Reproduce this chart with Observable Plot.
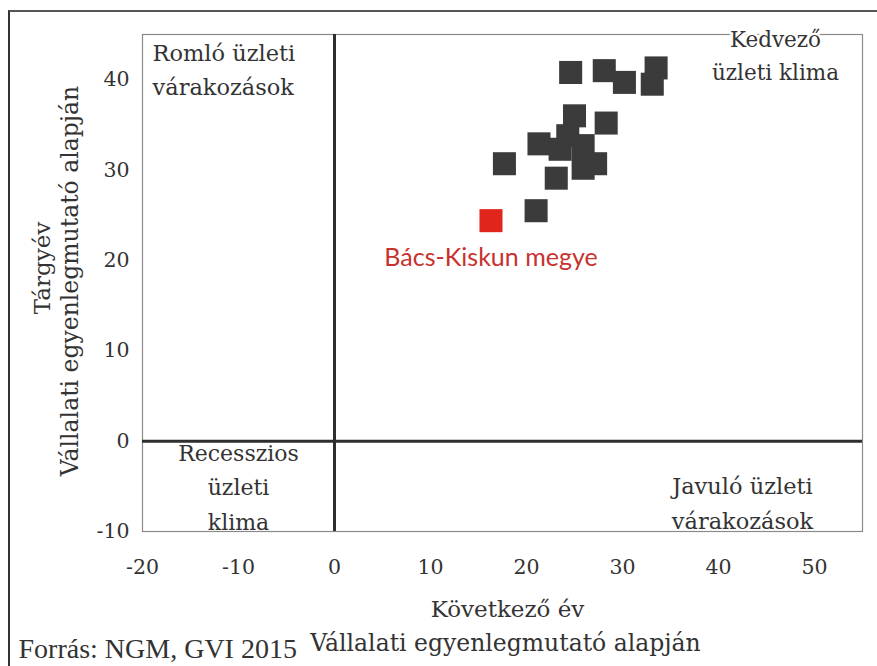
<!DOCTYPE html>
<html>
<head>
<meta charset="utf-8">
<script src="https://cdn.jsdelivr.net/npm/d3@7"></script>
<script src="https://cdn.jsdelivr.net/npm/@observablehq/plot@0.6"></script>
<style>
  html, body { margin: 0; padding: 0; background: #fff; }
  #wrap { position: relative; width: 877px; height: 666px; overflow: hidden; }
  #edge { position: absolute; left: 8px; top: 10px; right: -10px; bottom: -10px;
          border-left: 2px solid #333; border-top: 2px solid #555; pointer-events: none; }
</style>
</head>
<body>
<div id="wrap"><div id="edge"></div></div>
<script>
// Gray points: counties (Következő év, Tárgyév)
const nextYear = [24.6, 28.1, 30.2, 33.5, 33.1, 25.0, 28.3, 21.3, 24.3, 25.9, 23.5, 17.7, 23.1, 25.9, 27.2, 21.0];
const thisYear = [40.8, 41.0, 39.7, 41.3, 39.5, 36.0, 35.2, 32.9, 33.8, 32.7, 32.3, 30.7, 29.1, 30.2, 30.7, 25.5];
// Highlighted county
const highlightName = ["Bács-Kiskun megye"];
const highlightNext = [16.3];
const highlightThis = [24.4];
// Ticks
const xTicks = [-20, -10, 0, 10, 20, 30, 40, 50];
const yTicks = [-10, 0, 10, 20, 30, 40];

const points = nextYear.map((v, i) => ({x: v, y: thisYear[i]}));
const highlight = highlightName.map((n, i) => ({name: n, x: highlightNext[i], y: highlightThis[i]}));

const serif = "DejaVu Serif";
const txt = "#333333";

const chart = Plot.plot({
  width: 877,
  height: 666,
  marginLeft: 142,
  marginRight: 15,
  marginTop: 34,
  marginBottom: 135,
  style: {fontFamily: serif, background: "transparent", color: txt},
  x: {domain: [-20, 55]},
  y: {domain: [-10, 45]},
  marks: [
    Plot.frame({stroke: "#8a8a8a", strokeWidth: 1.2}),
    // quadrant labels drawn under the zero lines
    Plot.text(["Recesszios\nüzleti\nklima"], {x: -10, y: 0, text: d => d, textAnchor: "middle", lineAnchor: "top", lineHeight: 1.55, dy: -4, fontSize: 22, fill: txt}),
    Plot.ruleX([0], {stroke: "#2e2e2e", strokeWidth: 3}),
    Plot.ruleY([0], {stroke: "#2e2e2e", strokeWidth: 3}),
    Plot.text(["Romló üzleti\nvárakozások"], {frameAnchor: "top-left", text: d => d, textAnchor: "start", lineAnchor: "top", lineHeight: 1.5, dx: 10, dy: 3, fontSize: 22.5, fill: txt}),
    Plot.text(["Kedvező\nüzleti klima"], {frameAnchor: "top-right", text: d => d, textAnchor: "middle", lineAnchor: "top", lineHeight: 1.5, dx: -87, dy: -10, fontSize: 21.5, fill: txt, stroke: "white", strokeWidth: 5, paintOrder: "stroke"}),
    Plot.text(["Javuló üzleti\nvárakozások"], {frameAnchor: "bottom-right", text: d => d, textAnchor: "middle", lineAnchor: "bottom", lineHeight: 1.55, dx: -120, dy: -3, fontSize: 22.5, fill: txt}),
    // data
    Plot.dot(points, {x: "x", y: "y", symbol: "square", r: 13, fill: "#3b3b3b"}),
    Plot.dot(highlight, {x: "x", y: "y", symbol: "square", r: 13, fill: "#e0261c"}),
    Plot.text(highlight, {x: "x", y: "y", text: "name", dx: 0, dy: 37, fill: "#c8322e", fontFamily: "Lato", fontSize: 25}),
    // axes
    Plot.axisX({ticks: xTicks, tickSize: 0, tickPadding: 28, fontSize: 20.5, label: null, tickFormat: d => String(d)}),
    Plot.axisY({ticks: yTicks, tickSize: 0, tickPadding: 13, fontSize: 20.5, label: null, tickFormat: d => String(d)}),
    // axis titles
    Plot.text(["Következő év"], {frameAnchor: "bottom", text: d => d, textAnchor: "middle", dx: 5, dy: 85, fontSize: 23, fill: txt}),
    Plot.text(["Vállalati egyenlegmutató alapján"], {frameAnchor: "bottom", text: d => d, textAnchor: "middle", dx: 3, dy: 119, fontSize: 23.5, fill: txt}),
    Plot.text(["Forrás: NGM, GVI 2015"], {frameAnchor: "bottom-left", text: d => d, textAnchor: "start", dx: -124, dy: 126, fontSize: 28, fontFamily: "Liberation Serif", fill: txt}),
    Plot.text(["Tárgyév"], {frameAnchor: "left", text: d => d, rotate: -90, textAnchor: "middle", dx: -100, dy: -15, fontSize: 23, fill: txt}),
    Plot.text(["Vállalati egyenlegmutató alapján"], {frameAnchor: "left", text: d => d, rotate: -90, textAnchor: "middle", dx: -72, dy: -2, fontSize: 23.5, fill: txt})
  ]
});
document.getElementById("wrap").prepend(chart);
</script>
</body>
</html>
